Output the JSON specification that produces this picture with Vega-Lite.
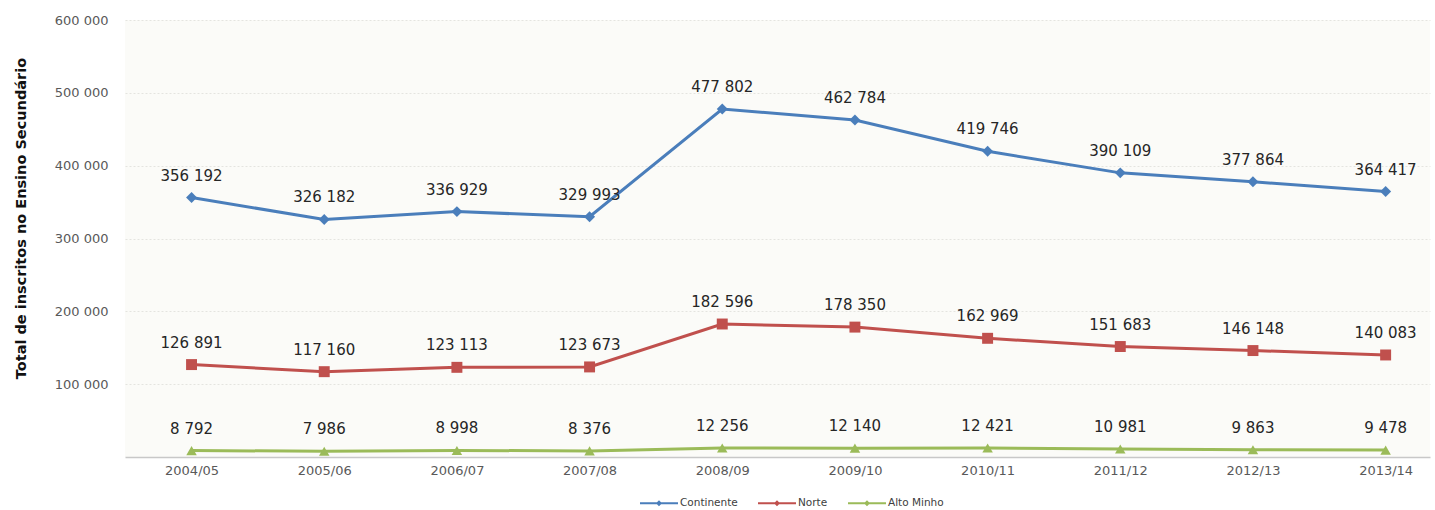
{
  "$schema": "https://vega.github.io/schema/vega-lite/v6.json",
  "width": 1305,
  "height": 437,
  "autosize": {"type": "none"},
  "padding": {"left": 125, "top": 20, "right": 5, "bottom": 53},
  "background": "white",
  "config": {
    "locale": {"number": {"decimal": ",", "thousands": " ", "grouping": [3], "currency": ["", " €"]}},
    "font": "DejaVu Sans",
    "view": {"stroke": null, "fill": "#fbfbf8"}
  },
  "data": {
    "values": [
      {"ano": "2004/05", "regiao": "Continente", "valor": 356192},
      {"ano": "2005/06", "regiao": "Continente", "valor": 326182},
      {"ano": "2006/07", "regiao": "Continente", "valor": 336929},
      {"ano": "2007/08", "regiao": "Continente", "valor": 329993},
      {"ano": "2008/09", "regiao": "Continente", "valor": 477802},
      {"ano": "2009/10", "regiao": "Continente", "valor": 462784},
      {"ano": "2010/11", "regiao": "Continente", "valor": 419746},
      {"ano": "2011/12", "regiao": "Continente", "valor": 390109},
      {"ano": "2012/13", "regiao": "Continente", "valor": 377864},
      {"ano": "2013/14", "regiao": "Continente", "valor": 364417},
      {"ano": "2004/05", "regiao": "Norte", "valor": 126891},
      {"ano": "2005/06", "regiao": "Norte", "valor": 117160},
      {"ano": "2006/07", "regiao": "Norte", "valor": 123113},
      {"ano": "2007/08", "regiao": "Norte", "valor": 123673},
      {"ano": "2008/09", "regiao": "Norte", "valor": 182596},
      {"ano": "2009/10", "regiao": "Norte", "valor": 178350},
      {"ano": "2010/11", "regiao": "Norte", "valor": 162969},
      {"ano": "2011/12", "regiao": "Norte", "valor": 151683},
      {"ano": "2012/13", "regiao": "Norte", "valor": 146148},
      {"ano": "2013/14", "regiao": "Norte", "valor": 140083},
      {"ano": "2004/05", "regiao": "Alto Minho", "valor": 8792},
      {"ano": "2005/06", "regiao": "Alto Minho", "valor": 7986},
      {"ano": "2006/07", "regiao": "Alto Minho", "valor": 8998},
      {"ano": "2007/08", "regiao": "Alto Minho", "valor": 8376},
      {"ano": "2008/09", "regiao": "Alto Minho", "valor": 12256},
      {"ano": "2009/10", "regiao": "Alto Minho", "valor": 12140},
      {"ano": "2010/11", "regiao": "Alto Minho", "valor": 12421},
      {"ano": "2011/12", "regiao": "Alto Minho", "valor": 10981},
      {"ano": "2012/13", "regiao": "Alto Minho", "valor": 9863},
      {"ano": "2013/14", "regiao": "Alto Minho", "valor": 9478}
    ]
  },
  "encoding": {
    "x": {
      "field": "ano", "type": "ordinal",
      "scale": {"type": "point", "padding": 0.418, "align": 0.6},
      "axis": {
        "title": null, "labelAngle": 0, "labelFontSize": 13, "labelColor": "#595959",
        "domainColor": "#c8c8c8", "domainWidth": 1.5, "ticks": false, "labelPadding": 7, "grid": false
      }
    },
    "y": {
      "field": "valor", "type": "quantitative",
      "scale": {"domain": [0, 600000], "nice": false},
      "axis": {
        "title": "Total de inscritos no Ensino Secundário",
        "titleFontSize": 14.5, "titleFontWeight": "bold", "titleColor": "#111111",
        "titleX": -111, "titleY": 198, "titleAngle": -90, "titleAlign": "center", "titleBaseline": "top",
        "values": [100000, 200000, 300000, 400000, 500000, 600000],
        "format": ",d", "labelFontSize": 13, "labelColor": "#595959", "labelPadding": 17,
        "domain": false, "ticks": false,
        "grid": true, "gridColor": "#e4e4e0", "gridDash": [2, 2], "gridWidth": 1
      }
    },
    "color": {
      "field": "regiao", "type": "nominal",
      "scale": {"domain": ["Continente", "Norte", "Alto Minho"], "range": ["#4a7ebb", "#c0504d", "#9bbb59"]},
      "legend": {
        "title": null, "orient": "none", "direction": "horizontal",
        "legendX": 515, "legendY": 464,
        "symbolType": "M-1,-0.05H1V0.05H-1Z M0,-0.16L0.16,0L0,0.16L-0.16,0Z",
        "labelFontSize": 10.5, "labelColor": "#404040", "symbolSize": 1444, "symbolStrokeWidth": 0,
        "columnPadding": 20, "labelOffset": 2
      }
    }
  },
  "layer": [
    {
      "mark": {"type": "line", "strokeWidth": 3},
      "encoding": {"detail": {"field": "regiao"}}
    },
    {
      "transform": [{"filter": "datum.regiao == 'Continente'"}],
      "mark": {"type": "point", "filled": true, "opacity": 1, "shape": "diamond", "size": 120}
    },
    {
      "transform": [{"filter": "datum.regiao == 'Norte'"}],
      "mark": {"type": "point", "filled": true, "opacity": 1, "shape": "square", "size": 120}
    },
    {
      "transform": [{"filter": "datum.regiao == 'Alto Minho'"}],
      "mark": {"type": "point", "filled": true, "opacity": 1, "shape": "triangle-up", "size": 110}
    },
    {
      "mark": {"type": "text", "dy": -22, "fontSize": 15, "color": "#262626", "fontWeight": 500},
      "encoding": {
        "text": {"field": "valor", "type": "quantitative", "format": ",d"},
        "color": {"value": "#262626"}
      }
    }
  ]
}
